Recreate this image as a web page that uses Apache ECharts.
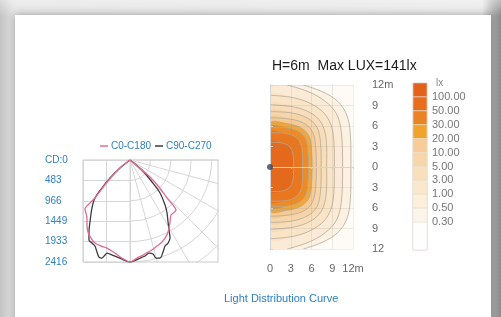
<!DOCTYPE html>
<html>
<head>
<meta charset="utf-8">
<script src="https://cdn.jsdelivr.net/npm/echarts@6/dist/echarts.min.js"></script>
<style>
html, body { margin: 0; padding: 0; }
body {
    width: 501px; height: 317px; overflow: hidden; position: relative;
    background:
        linear-gradient(to bottom, rgba(255,255,255,0.45), rgba(255,255,255,0) 16px),
        linear-gradient(to right, #c3c3c3 0, #e0e0e0 14px, #e6e6e6 482px, #a8a8a8 493px, #8a8a8a 501px);
}
.card {
    position: absolute; left: 15px; top: 15px; width: 476px; height: 320px;
    background: #fff; box-shadow: 0 0 7px rgba(0,0,0,0.3);
}
#chart { position: absolute; left: 0; top: 0; width: 501px; height: 317px; }
</style>
</head>
<body>
<div class="card"></div>
<div id="chart"></div>
<script>
// light distribution curve (cd), points as [x, depth]
const cdTicks = ['CD:0', '483', '966', '1449', '1933', '2416'];
const curveNames = ['C0-C180', 'C90-C270'];
const c0c180 = [[0,0],[-190,142],[-356,308],[-521,498],[-687,711],[-830,901],[-972,1043],[-1067,1161],
    [-1043,1256],[-1019,1375],[-1019,1541],[-995,1706],[-924,1849],[-830,1967],[-687,2038],[-545,2086],
    [-356,2204],[-190,2323],[0,2416],[166,2323],[308,2252],[427,2180],[521,2133],[640,2038],[735,1967],
    [830,1849],[901,1706],[948,1469],[972,1304],[1090,1185],[1019,1067],[877,901],[687,640],[474,403],
    [284,237],[0,0]];
const c90c270 = [[0,0],[-237,190],[-474,427],[-664,664],[-830,901],[-901,1138],[-948,1469],[-972,1706],
    [-972,1896],[-901,1967],[-830,2038],[-782,2180],[-735,2299],[-664,2323],[-593,2252],[-545,2204],
    [-474,2228],[-356,2275],[-190,2346],[0,2416],[190,2346],[356,2275],[450,2204],[545,2228],[616,2323],
    [711,2323],[782,2180],[830,2038],[901,1967],[948,1849],[924,1659],[901,1469],[877,1256],[830,1067],
    [711,782],[521,521],[284,237],[0,0]];

// isolux map (m), outermost first
const mapTickX = ['0', '3', '6', '9', '12m'];
const mapTickY = ['12', '9', '6', '3', '0', '3', '6', '9', '12m'];
const isoLevels = [0.3, 0.5, 1, 3, 5, 10, 20, 30, 50, 100];
const isoLines = [
    [[0,12],[4.8,12],[7.6,11.0],[9.8,9.6],[11.1,7.6],[11.6,5.0],[11.7,0],[11.6,-5.0],[11.1,-7.6],[9.8,-9.6],[7.6,-11.0],[4.8,-12],[0,-12]],
    [[0,12],[2.5,12],[5.6,11.0],[8.0,9.6],[9.6,7.8],[10.3,5.2],[10.5,0],[10.3,-5.2],[9.6,-7.8],[8.0,-9.6],[5.6,-11.0],[2.5,-12],[0,-12]],
    [[0,10.5],[3.6,10.1],[6.4,9.0],[8.2,7.4],[9.1,5.0],[9.3,0],[9.1,-5.0],[8.2,-7.4],[6.4,-9.0],[3.6,-10.1],[0,-10.5]],
    [[0,9.1],[3.4,8.8],[5.9,7.9],[7.4,6.5],[8.1,4.2],[8.2,0],[8.1,-4.2],[7.4,-6.5],[5.9,-7.9],[3.4,-8.8],[0,-9.1]],
    [[0,8.1],[3.2,7.9],[5.5,7.1],[6.8,5.8],[7.3,3.6],[7.4,0],[7.3,-3.6],[6.8,-5.8],[5.5,-7.1],[3.2,-7.9],[0,-8.1]],
    [[0,7.2],[3.0,7.0],[5.1,6.3],[6.2,5.0],[6.6,3.0],[6.7,0],[6.6,-3.0],[6.2,-5.0],[5.1,-6.3],[3.0,-7.0],[0,-7.2]],
    [[0,6.4],[2.8,6.3],[4.7,5.6],[5.7,4.4],[6.0,2.5],[6.1,0],[6.0,-2.5],[5.7,-4.4],[4.7,-5.6],[2.8,-6.3],[0,-6.4]],
    [[0,5.8],[2.6,5.7],[4.3,5.1],[5.2,4.0],[5.5,2.2],[5.6,0],[5.5,-2.2],[5.2,-4.0],[4.3,-5.1],[2.6,-5.7],[0,-5.8]],
    [[0,5.0],[2.4,4.9],[3.8,4.3],[4.5,3.2],[4.7,1.5],[4.7,0],[4.7,-1.5],[4.5,-3.2],[3.8,-4.3],[2.4,-4.9],[0,-5.0]],
    [[0,3.6],[1.8,3.5],[2.8,3.0],[3.3,2.0],[3.4,0],[3.3,-2.0],[2.8,-3.0],[1.8,-3.5],[0,-3.6]]
];
const isoColors = ['#fcf1e2', '#fbebd6', '#f9e4c8', '#f8ddba', '#f7d5aa', '#f5ca94', '#f0a63a', '#ec8b27', '#e9771f', '#e4691c'];
const lampPos = [[0, 0]];

// colour scale
const legendTicks = ['', '100.00', '50.00', '30.00', '20.00', '10.00', '5.00', '3.00', '1.00', '0.50', '0.30', '', ''];
const legendColors = ['#e2621b', '#e66e1d', '#eb8223', '#f0a42b', '#f6cd98', '#f7d6a9', '#f9dfbc', '#fae7cc', '#fcefdc', '#fdf5ea', '#ffffff'];

const font = 'Liberation Sans';
const blue = '#2f80c2';
const gridLine = '#d6d6d6';
const mapGrid = 'rgba(150,140,125,0.16)';

var myChart = echarts.init(document.getElementById('chart'));
var option = {
    animation: false,
    textStyle: { fontFamily: font },
    title: [
        { text: 'H=6m  Max LUX=141lx', left: 267, top: 54, z: 20,
          textStyle: { fontSize: 14, fontWeight: 'normal', color: '#1c1c1c', fontFamily: font } },
        { text: 'Light Distribution Curve', left: 219, top: 288, z: 20,
          textStyle: { fontSize: 11, fontWeight: 'normal', color: blue, fontFamily: font } },
        { text: 'lx', left: 431, top: 73, z: 20,
          textStyle: { fontSize: 10, fontWeight: 'normal', color: '#888', fontFamily: font } }
    ],
    legend: {
        data: curveNames, left: 100, top: 141, icon: 'rect', itemWidth: 8, itemHeight: 1.5, itemGap: 4, padding: 0,
        textStyle: { color: blue, fontSize: 10, padding: [0, 0, 0, -2] }
    },
    grid: [
        { left: 83, top: 160, width: 47, height: 102 },
        { left: 83, top: 160, width: 135, height: 102, show: true, borderColor: '#c9c9c9', borderWidth: 1 },
        { left: 270, top: 85, width: 83, height: 164, show: true, backgroundColor: '#fefbf6', borderWidth: 0 },
        { left: 413, top: 83, width: 14, height: 167, show: true, borderColor: '#d8d8d8', borderWidth: 1 }
    ],
    xAxis: [
        { gridIndex: 0, type: 'value', min: -1104, max: 0, interval: 552,
          axisLine: { show: false }, axisTick: { show: false }, axisLabel: { show: false },
          splitLine: { lineStyle: { color: gridLine } } },
        { gridIndex: 1, type: 'value', min: -1113, max: 2084, show: false },
        { gridIndex: 2, type: 'value', min: 0, max: 12, interval: 3, position: 'bottom', offset: 10, z: 3,
          axisLine: { show: true, lineStyle: { color: '#d4d4d4' } },
          axisTick: { show: true, inside: false, length: 2, lineStyle: { color: '#cfcfcf' } },
          axisLabel: { color: '#666', fontSize: 11, margin: 4, formatter: (v, i) => mapTickX[i] },
          splitLine: { show: true, lineStyle: { color: mapGrid } } },
        { gridIndex: 3, type: 'value', min: 0, max: 1, show: false }
    ],
    yAxis: [
        { gridIndex: 0, type: 'value', inverse: true, min: 0, max: 2416, interval: 483.2,
          axisLine: { show: false }, axisTick: { show: false },
          axisLabel: { color: blue, fontSize: 10, align: 'left', margin: 38, formatter: (v, i) => cdTicks[i] },
          splitLine: { lineStyle: { color: gridLine } } },
        { gridIndex: 1, type: 'value', inverse: true, min: 0, max: 2416, show: false },
        { gridIndex: 2, type: 'value', min: -12, max: 12, interval: 3, position: 'right', offset: 12, z: 3,
          axisLine: { show: true, lineStyle: { color: '#d4d4d4' } },
          axisTick: { show: true, inside: false, length: 3, lineStyle: { color: '#cfcfcf' } },
          axisLabel: { color: '#666', fontSize: 11, align: 'left', margin: 7, formatter: (v, i) => mapTickY[i] },
          splitLine: { show: true, lineStyle: { color: mapGrid } } },
        { gridIndex: 3, type: 'category', data: legendTicks, boundaryGap: false, inverse: true, position: 'right',
          axisLine: { show: false }, axisTick: { show: false },
          axisLabel: { interval: 0, color: '#777', fontSize: 11, align: 'left', margin: 5 } }
    ],
    polar: { center: [130, 160], radius: 136 },
    angleAxis: {
        type: 'value', min: 0, max: 90, interval: 15, startAngle: 270, endAngle: 360, clockwise: false,
        axisLine: { show: false }, axisTick: { show: false }, axisLabel: { show: false },
        splitLine: { show: true, lineStyle: { color: gridLine } }
    },
    radiusAxis: {
        type: 'value', min: 0, max: 3222, interval: 483.2,
        axisLine: { show: false }, axisTick: { show: false }, axisLabel: { show: false },
        splitLine: { show: true, lineStyle: { color: gridLine } }
    },
    graphic: [
        { type: 'rect', silent: true, z: 10, shape: { x: 219, y: 140, width: 48, height: 165 }, style: { fill: '#fff' } },
        { type: 'rect', silent: true, z: 10, shape: { x: 78, y: 263, width: 189, height: 40 }, style: { fill: '#fff' } }
    ],
    series: [
        { name: 'C90-C270', type: 'line', xAxisIndex: 1, yAxisIndex: 1, data: c90c270, symbol: 'none',
          smooth: 0.3, lineStyle: { color: '#3b3b3b', width: 1.3 }, itemStyle: { color: '#3b3b3b' }, z: 4 },
        { name: 'C0-C180', type: 'line', xAxisIndex: 1, yAxisIndex: 1, data: c0c180, symbol: 'none',
          smooth: 0.3, lineStyle: { color: '#e46a90', width: 1.3 }, itemStyle: { color: '#e46a90' }, z: 5 },
        { type: 'custom', xAxisIndex: 2, yAxisIndex: 2, clip: true, z: 2,
          data: isoLevels.map((l, i) => [i, l]),
          renderItem: function (params, api) {
              var i = api.value(0);
              var ring = isoLines[i];
              var pts = ring.map(p => api.coord(p));
              var edge = ring.filter(p => !(p[0] === 0 && Math.abs(p[1]) >= 12)).map(p => api.coord(p));
              return { type: 'group', children: [
                  { type: 'polygon', shape: { points: pts, smooth: 0.35 }, style: { fill: isoColors[i] } },
                  { type: 'polyline', shape: { points: edge, smooth: 0.35 },
                    style: { fill: null, stroke: '#b2aa99', lineWidth: 0.8 } }
              ] };
          } },
        { type: 'scatter', xAxisIndex: 2, yAxisIndex: 2, data: lampPos, symbolSize: 6,
          itemStyle: { color: '#34495e' }, z: 6 },
        { type: 'custom', xAxisIndex: 3, yAxisIndex: 3, z: 2,
          data: legendColors.map((c, i) => [i]),
          renderItem: function (params, api) {
              var i = api.value(0);
              var end = i === legendColors.length - 1 ? legendTicks.length - 1 : i + 1;
              var a = api.coord([0, i]);
              var b = api.coord([1, end]);
              return { type: 'rect', shape: { x: a[0], y: a[1], width: b[0] - a[0], height: b[1] - a[1] },
                       style: { fill: legendColors[i], stroke: '#eadfcf', lineWidth: 0.6 } };
          } }
    ]
};
myChart.setOption(option);
</script>
</body>
</html>
